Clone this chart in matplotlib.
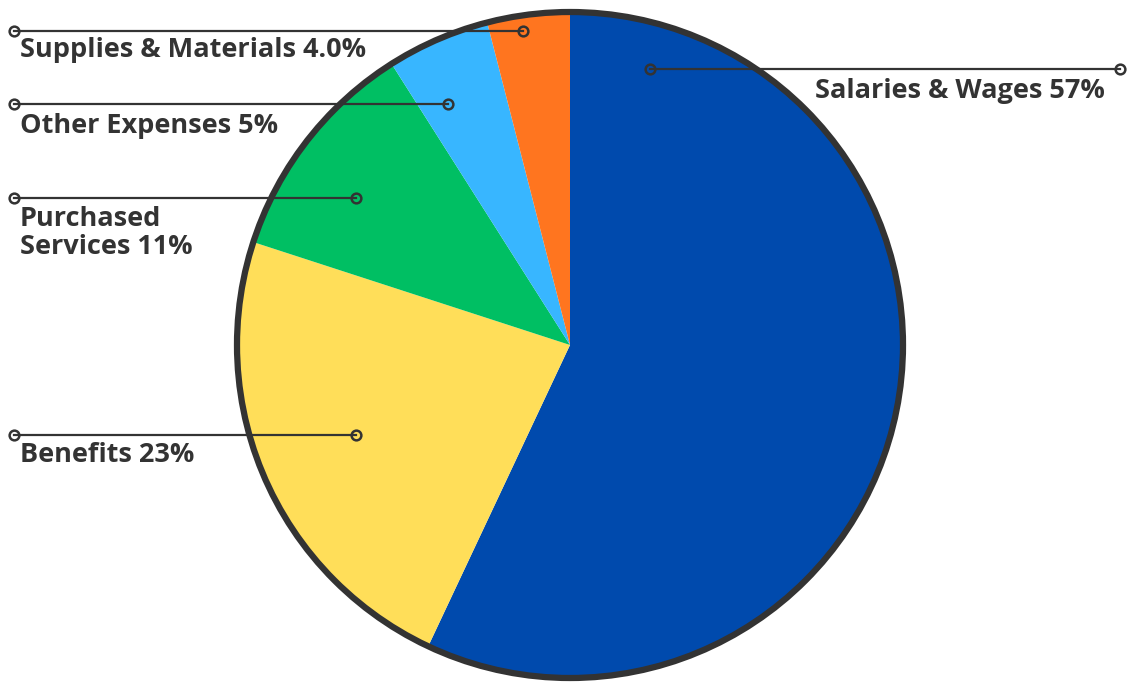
import numpy as np
import matplotlib.pyplot as plt

categories = ["Salaries & Wages", "Benefits", "Purchased\nServices", "Other Expenses", "Supplies & Materials"]
shares = [57, 23, 11, 5, 4]
share_labels = ["57%", "23%", "11%", "5%", "4.0%"]
colors = ["#004AAD", "#FFDE59", "#00BF63", "#38B6FF", "#FF751F"]

W, H = 1130, 683
ink = "#333333"

fig = plt.figure(figsize=(W / 100, H / 100), dpi=100)
ax = fig.add_axes([0, 0, 1, 1])
ax.set_xlim(0, W)
ax.set_ylim(0, H)
ax.set_aspect("equal")
ax.axis("off")

def Y(y):
    # pixel row (from top) -> axes y
    return H - y

cx, cy, R = 570, Y(345), 333
ax.pie(shares, colors=colors, startangle=90, counterclock=False,
       center=(cx, cy), radius=R, wedgeprops=dict(linewidth=0))
ax.add_patch(plt.Circle((cx, cy), R, fill=False, ec=ink, lw=4.5, zorder=3))
ax.set_xlim(0, W)
ax.set_ylim(0, H)

# leader lines: (inner x, outer x, row), text anchor
leaders = [
    (650, 1120, 69, 1105, 91, "right"),
    (356, 14, 435, 20, 455, "left"),
    (356, 14, 198, 20, 233, "left"),
    (448, 14, 104, 20, 126, "left"),
    (523, 14, 31, 20, 50, "left"),
]

for (x0, x1, row, tx, ty, ha), name, lab in zip(leaders, categories, share_labels):
    ax.plot([x0, x1], [Y(row), Y(row)], color=ink, lw=1.6, zorder=4)
    ax.plot([x0, x1], [Y(row), Y(row)], ls="none", marker="o", ms=7,
            mfc="none", mec=ink, mew=1.8, zorder=5)
    ax.text(tx, Y(ty), f"{name} {lab}", ha=ha, va="center", fontsize=19.5,
            fontweight="bold", color=ink, family="Open Sans", linespacing=1.05,
            zorder=6)

fig.savefig("out.png", dpi=100)
